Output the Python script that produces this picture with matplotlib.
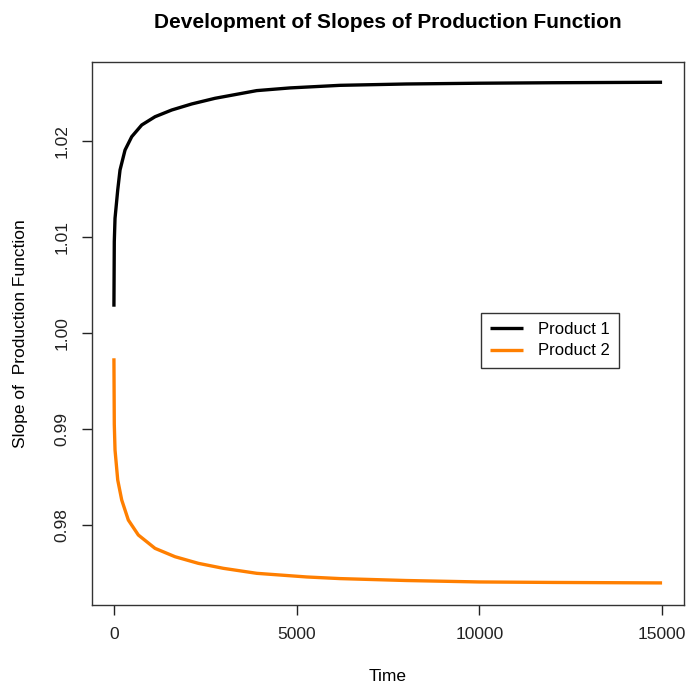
import matplotlib
matplotlib.use("Agg")
import matplotlib.pyplot as plt

# Werte
time_p1 = [0, 10, 30, 104, 167, 304, 487, 761, 1125, 1582, 2129, 2767, 3908, 4819, 6188,
           8000, 10000, 12000, 15000]
slope_p1 = [1.00277, 1.00955, 1.01198, 1.01493, 1.01701, 1.01909, 1.02048, 1.02170, 1.02256,
            1.02326, 1.02389, 1.02448, 1.02528, 1.02556, 1.02583, 1.02597, 1.02605, 1.02610,
            1.02615]

time_p2 = [0, 10, 30, 104, 213, 394, 668, 1125, 1672, 2310, 2994, 3908, 5276, 6188,
           8000, 10000, 12000, 15000]
slope_p2 = [0.99740, 0.99052, 0.98785, 0.98472, 0.98264, 0.98055, 0.97899, 0.97760, 0.97673,
            0.97604, 0.97552, 0.97500, 0.97462, 0.97445, 0.97425, 0.97410, 0.97405, 0.97400]

x_ticks = [0, 5000, 10000, 15000]
y_ticks = [0.98, 0.99, 1.00, 1.01, 1.02]
y_tick_labels = ["0.98", "0.99", "1.00", "1.01", "1.02"]

plt.rcParams['font.family'] = ['Liberation Sans', 'DejaVu Sans']

W, H = 689, 687
fig = plt.figure(figsize=(W / 100, H / 100), dpi=100)
ax = fig.add_axes([92 / W, (H - 605) / H, (684 - 92) / W, (605 - 62) / H])

ax.plot(time_p1, slope_p1, color='black', lw=2.4, label='Product 1', solid_capstyle='butt')
ax.plot(time_p2, slope_p2, color='#FF7F00', lw=2.4, label='Product 2', solid_capstyle='butt')

ax.set_xlim(-600, 15600)
ax.set_ylim(0.97170, 1.02826)
ax.set_xticks(x_ticks)
ax.set_xticklabels([str(t) for t in x_ticks])
ax.set_yticks(y_ticks)
ax.set_yticklabels(y_tick_labels, rotation=90, va='center')
ax.tick_params(direction='out', length=7, width=1, labelsize=12.5, pad=9, colors='#222222')

for s in ax.spines.values():
    s.set_color('#333333')
    s.set_linewidth(1)

ax.set_xlabel('Time', fontsize=12.5, labelpad=19)
ax.set_ylabel('Slope of  Production Function', fontsize=12.5, labelpad=19)
fig.text(388 / W, (H - 22) / H, 'Development of Slopes of Production Function',
         ha='center', va='center', fontsize=15, fontweight='bold')

leg = ax.legend(loc='upper left', bbox_to_anchor=(0.657, 0.538), fancybox=False,
                edgecolor='#333333', fontsize=12, handlelength=2.0, borderpad=0.55,
                labelspacing=0.38, handletextpad=0.85, framealpha=1, borderaxespad=0)
leg.get_frame().set_linewidth(1)

fig.savefig('out.png', dpi=100)
